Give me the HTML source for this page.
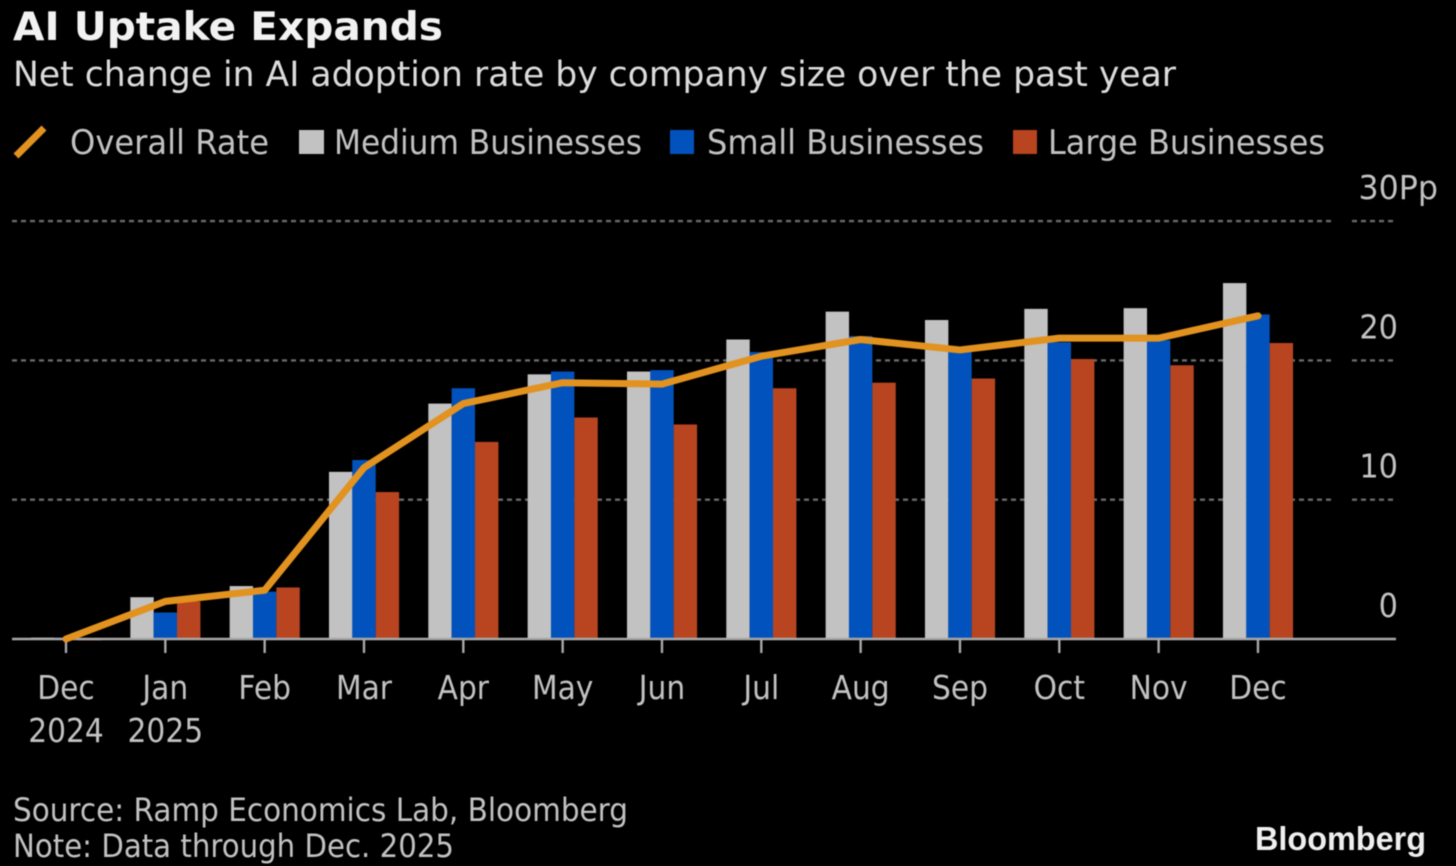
<!DOCTYPE html>
<html lang="en">
<head>
<meta charset="utf-8">
<title>AI Uptake Expands</title>
<style>
html,body{margin:0;padding:0;background:#000;width:1456px;height:866px;overflow:hidden}
svg{display:block;filter:blur(0.6px)}
text{font-family:"DejaVu Sans","Liberation Sans",sans-serif;fill:#c2c2c2}
</style>
</head>
<body>
<svg id="chart" width="1456" height="866" viewBox="0 0 1456 866" xmlns="http://www.w3.org/2000/svg">
  <rect width="1456" height="866" fill="#000"/>
  <text x="13" y="40" font-size="39" font-weight="700" style="fill:#f2f2f2" textLength="430" lengthAdjust="spacingAndGlyphs">AI Uptake Expands</text>
  <text x="13" y="86" font-size="35" style="fill:#dcdcdc" textLength="1163" lengthAdjust="spacingAndGlyphs">Net change in AI adoption rate by company size over the past year</text>

  <line x1="16" y1="156" x2="44" y2="128" stroke="#e2921f" stroke-width="7"/>
  <text x="70" y="154" font-size="34" textLength="199" lengthAdjust="spacingAndGlyphs">Overall Rate</text>
  <rect x="299" y="130" width="25" height="24" fill="#c2c2c2"/>
  <text x="334" y="154" font-size="34" textLength="308" lengthAdjust="spacingAndGlyphs">Medium Businesses</text>
  <rect x="670" y="130" width="24" height="24" fill="#0252bd"/>
  <text x="707" y="154" font-size="34" textLength="277" lengthAdjust="spacingAndGlyphs">Small Businesses</text>
  <rect x="1013" y="130" width="24" height="24" fill="#b84520"/>
  <text x="1048" y="154" font-size="34" textLength="277" lengthAdjust="spacingAndGlyphs">Large Businesses</text>

  <g id="grid"></g>
  <g id="bars"></g>
  <g id="xaxis"></g>
  <g id="yaxis"></g>
  <g id="lineLayer"></g>

  <text x="13" y="821" font-size="32" textLength="615" lengthAdjust="spacingAndGlyphs">Source: Ramp Economics Lab, Bloomberg</text>
  <text x="13" y="857" font-size="32" textLength="441" lengthAdjust="spacingAndGlyphs">Note: Data through Dec. 2025</text>
  <text x="1255" y="850" font-size="33" font-weight="700" style="fill:#efefef;font-family:'Liberation Sans',sans-serif" textLength="171" lengthAdjust="spacingAndGlyphs">Bloomberg</text>
</svg>
<script>
const months = ["Dec","Jan","Feb","Mar","Apr","May","Jun","Jul","Aug","Sep","Oct","Nov","Dec"];
const years = ["2024","2025","","","","","","","","","","",""];
const medium = [0.1,3.0,3.8,12.0,16.9,19.0,19.2,21.5,23.5,22.9,23.7,23.75,25.55];
const small = [0.1,1.9,3.4,12.85,18.0,19.2,19.3,20.6,21.75,20.75,21.3,21.45,23.3];
const large = [-0.1,2.7,3.7,10.55,14.15,15.9,15.4,18.0,18.4,18.7,20.1,19.65,21.25];
const overall = [0,2.7,3.5,12.3,16.9,18.4,18.3,20.3,21.5,20.75,21.6,21.6,23.2];
const yTicks = [0,10,20,30];
const yTickLabels = ["0","10","20","30Pp"];

const SVG_NS = "http://www.w3.org/2000/svg";
function yScale(v){ return 639 - v * 13.93; }
function xScale(i){ return 66 + i * 99.33; }
function make(tag, attrs, parent){
  const el = document.createElementNS(SVG_NS, tag);
  for (const k in attrs) el.setAttribute(k, attrs[k]);
  parent.appendChild(el);
  return el;
}
function narrow(el, factor){
  el.setAttribute("textLength", el.getComputedTextLength() * factor);
  el.setAttribute("lengthAdjust", "spacingAndGlyphs");
}
const grid = document.getElementById("grid");
const bars = document.getElementById("bars");
const xaxis = document.getElementById("xaxis");
const yaxis = document.getElementById("yaxis");
const lineLayer = document.getElementById("lineLayer");

yTicks.forEach(function(t, i){
  if (t !== 0) {
    const g1 = make("line", {x1:12, x2:1333, y1:yScale(t), y2:yScale(t), stroke:"#6a6a6a", "stroke-width":2.4, "stroke-dasharray":"5 4"}, grid);
    
    
    const g2 = make("line", {x1:1352, x2:1396, y1:yScale(t), y2:yScale(t), stroke:"#6a6a6a", "stroke-width":2.4, "stroke-dasharray":"5 4"}, grid);
    
    
  }
  const isTop = t === 30;
  const label = make("text", {x:isTop ? 1438 : 1398, y:yScale(t) - (isTop ? 22 : 22), "font-size":33, "text-anchor":"end"}, yaxis);
  label.textContent = yTickLabels[i];
  
  
  narrow(label, isTop ? 0.96 : 0.92);
});

function drawSeries(values, color, offset, name){
  values.forEach(function(v, i){
    const top = Math.min(yScale(v), yScale(0));
    const h = Math.max(Math.abs(yScale(v) - yScale(0)), 1);
    const r = make("rect", {x:xScale(i) + offset, y:top, width:23.4, height:h, fill:color}, bars);
    
    
  });
}

const baseline = make("line", {x1:12, x2:1396, y1:yScale(0), y2:yScale(0), stroke:"#a8a8a8", "stroke-width":2.4}, xaxis);



months.forEach(function(m, i){
  const tick = make("line", {x1:xScale(i), x2:xScale(i), y1:yScale(0), y2:yScale(0) + 14, stroke:"#a8a8a8", "stroke-width":2.4}, xaxis);
  
  
  const mt = make("text", {x:xScale(i), y:699, "font-size":33, "text-anchor":"middle"}, xaxis);
  mt.textContent = m;
  
  
  narrow(mt, 0.9);
  if (years[i]) {
    const yt = make("text", {x:xScale(i), y:742, "font-size":33, "text-anchor":"middle"}, xaxis);
    yt.textContent = years[i];
    
    
    narrow(yt, 0.9);
  }
});

// Bars are painted after the baseline so the tiny Dec 2024 values stay visible over it.
drawSeries(medium, "#c2c2c2", -35, "bar-medium");
drawSeries(small, "#0252bd", -11.7, "bar-small");
drawSeries(large, "#b84520", 11.7, "bar-large");

const pts = overall.map(function(v, i){ return xScale(i) + "," + yScale(v); }).join(" ");
const rateLine = make("polyline", {points:pts, fill:"none", stroke:"#e2921f", "stroke-width":7, "stroke-linejoin":"round", "stroke-linecap":"round"}, lineLayer);


</script>
</body>
</html>
